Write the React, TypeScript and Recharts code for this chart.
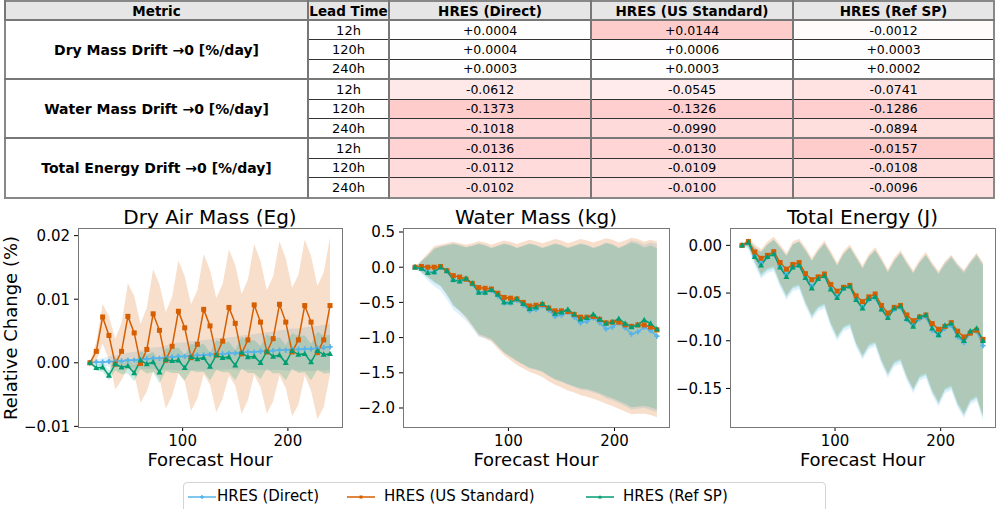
import React from 'react'
import { Area, ComposedChart, Line, XAxis, YAxis } from 'recharts'

const FONT = '"DejaVu Sans", Verdana, sans-serif'
const BLUE = '#56B4E9'
const ORANGE = '#D55E00'
const GREEN = '#009E73'

// ---------- table data ----------
const metrics = ['Dry Mass Drift →0 [%/day]', 'Water Mass Drift →0 [%/day]', 'Total Energy Drift →0 [%/day]']
const leadTimes = ['12h', '120h', '240h']
const seriesNames = ['HRES (Direct)', 'HRES (US Standard)', 'HRES (Ref SP)']
const driftDirect = [0.0004, 0.0004, 0.0003, -0.0612, -0.1373, -0.1018, -0.0136, -0.0112, -0.0102]
const driftUS = [0.0144, 0.0006, 0.0003, -0.0545, -0.1326, -0.099, -0.013, -0.0109, -0.01]
const driftRefSP = [-0.0012, 0.0003, 0.0002, -0.0741, -0.1286, -0.0894, -0.0157, -0.0108, -0.0096]

// ---------- chart data ----------
const hours = [
  12, 18, 24, 30, 36, 42, 48, 54, 60, 66,
  72, 78, 84, 90, 96, 102, 108, 114, 120, 126,
  132, 138, 144, 150, 156, 162, 168, 174, 180, 186,
  192, 198, 204, 210, 216, 222, 228, 234, 240,
]

// dry air mass
const dryDirect = [
  0, 0.0001, 0.0001, 0.0002, 0.0002, 0.0003, 0.0004, 0.0004, 0.0005, 0.0006,
  0.0007, 0.0007, 0.0008, 0.0009, 0.001, 0.001, 0.0011, 0.0012, 0.0012, 0.0013,
  0.0014, 0.0014, 0.0015, 0.0015, 0.0016, 0.0017, 0.0017, 0.0018, 0.0018, 0.0019,
  0.002, 0.002, 0.0021, 0.0021, 0.0022, 0.0022, 0.0023, 0.0024, 0.0025,
]
const dryDirectLo = [
  0, -0.0003, -0.0005, -0.0006, -0.0007, -0.0007, -0.0008, -0.0009, -0.0009, -0.001,
  -0.001, -0.0011, -0.0011, -0.0011, -0.0012, -0.0012, -0.0012, -0.0011, -0.0012, -0.0011,
  -0.0011, -0.0011, -0.001, -0.0011, -0.0011, -0.001, -0.0011, -0.0011, -0.0012, -0.0011,
  -0.0011, -0.0012, -0.0012, -0.0012, -0.0012, -0.0013, -0.0012, -0.0012, -0.0011,
]
const dryDirectHi = [
  0, 0.0005, 0.0007, 0.001, 0.0011, 0.0013, 0.0016, 0.0017, 0.0019, 0.0022,
  0.0024, 0.0025, 0.0027, 0.0029, 0.0032, 0.0032, 0.0034, 0.0035, 0.0036, 0.0037,
  0.0039, 0.0039, 0.004, 0.0041, 0.0043, 0.0044, 0.0045, 0.0047, 0.0048, 0.0049,
  0.0051, 0.0052, 0.0054, 0.0054, 0.0056, 0.0057, 0.0058, 0.006, 0.0061,
]
const dryUS = [
  0, 0.0018, 0.0072, 0.0043, -0.0002, 0.0018, 0.0073, 0.0047, -0.0001, 0.0021,
  0.0077, 0.0051, 0.0004, 0.0026, 0.0081, 0.0055, 0.0008, 0.0029, 0.0084, 0.0058,
  0.0012, 0.0034, 0.0087, 0.0062, 0.0014, 0.0036, 0.0091, 0.0064, 0.0017, 0.0038,
  0.0092, 0.0064, 0.0017, 0.0036, 0.009, 0.0064, 0.0016, 0.0036, 0.009,
]
const dryUSLo = [
  -0.0001, 0.0003, 0.003, 0.0005, -0.0042, -0.0027, -0.0007, -0.0018, -0.0063, -0.0045,
  -0.0013, -0.0025, -0.0072, -0.0052, -0.0017, -0.003, -0.0076, -0.0056, -0.0018, -0.0034,
  -0.0078, -0.0056, -0.002, -0.0036, -0.008, -0.0059, -0.0019, -0.0038, -0.008, -0.006,
  -0.002, -0.004, -0.0084, -0.0066, -0.002, -0.0044, -0.0089, -0.007, -0.0018,
]
const dryUSHi = [
  0.0001, 0.0033, 0.0093, 0.0073, 0.0038, 0.0063, 0.0125, 0.0105, 0.0061, 0.0087,
  0.0147, 0.0123, 0.008, 0.0104, 0.0161, 0.0136, 0.0092, 0.0114, 0.0171, 0.0146,
  0.0102, 0.0124, 0.0178, 0.0154, 0.0108, 0.0131, 0.0187, 0.016, 0.0114, 0.0136,
  0.0191, 0.0164, 0.0118, 0.0138, 0.0194, 0.0168, 0.0121, 0.0142, 0.0197,
]
const dryRef = [
  0, -0.0008, -0.0007, -0.002, -0.0002, -0.0007, -0.0005, -0.0016, 0.0004, -0.0002,
  0.0001, -0.0015, 0.0005, 0.0003, 0.0004, -0.0008, 0.0009, 0.0006, 0.0008, -0.0006,
  0.0012, 0.0008, 0.0009, -0.0004, 0.0016, 0.0009, 0.001, 0, 0.0018, 0.001,
  0.0012, 0, 0.0019, 0.0013, 0.0014, 0.0001, 0.0019, 0.0013, 0.0014,
]
const dryRefLo = [
  0, -0.0013, -0.0014, -0.0028, -0.0012, -0.0018, -0.0017, -0.0029, -0.001, -0.0017,
  -0.0015, -0.0032, -0.0013, -0.0016, -0.0016, -0.0028, -0.0012, -0.0015, -0.0014, -0.0028,
  -0.0011, -0.0015, -0.0015, -0.0028, -0.0009, -0.0016, -0.0016, -0.0026, -0.0009, -0.0017,
  -0.0016, -0.0028, -0.0009, -0.0016, -0.0015, -0.0028, -0.0011, -0.0017, -0.0016,
]
const dryRefHi = [
  0, -0.0003, 0, -0.0012, 0.0008, 0.0004, 0.0007, -0.0003, 0.0018, 0.0013,
  0.0017, 0.0002, 0.0023, 0.0022, 0.0024, 0.0012, 0.003, 0.0027, 0.003, 0.0016,
  0.0035, 0.0031, 0.0033, 0.002, 0.0041, 0.0034, 0.0036, 0.0026, 0.0045, 0.0037,
  0.004, 0.0028, 0.0047, 0.0042, 0.0043, 0.003, 0.0049, 0.0043, 0.0044,
]

// water mass
const waterDirect = [
  0, -0.01, -0.07, -0.07, 0, -0.06, -0.18, -0.2, -0.17, -0.24,
  -0.35, -0.36, -0.33, -0.41, -0.51, -0.51, -0.47, -0.54, -0.62, -0.6,
  -0.55, -0.61, -0.7, -0.68, -0.64, -0.71, -0.79, -0.77, -0.72, -0.79,
  -0.88, -0.85, -0.79, -0.86, -0.95, -0.92, -0.85, -0.9, -0.98,
]
const waterDirectLo = [
  0, -0.09, -0.19, -0.27, -0.33, -0.46, -0.6, -0.68, -0.76, -0.87,
  -0.99, -1.01, -1.04, -1.13, -1.22, -1.28, -1.34, -1.39, -1.44, -1.46,
  -1.49, -1.55, -1.6, -1.63, -1.67, -1.7, -1.74, -1.75, -1.78, -1.81,
  -1.86, -1.89, -1.93, -1.97, -2.02, -2.01, -2.0, -2.03, -2.06,
]
const waterDirectHi = [
  0, 0.09, 0.17, 0.27, 0.3, 0.32, 0.34, 0.32, 0.29, 0.31,
  0.34, 0.32, 0.28, 0.31, 0.34, 0.32, 0.28, 0.31, 0.34, 0.32,
  0.28, 0.31, 0.34, 0.32, 0.28, 0.31, 0.34, 0.32, 0.28, 0.31,
  0.35, 0.33, 0.28, 0.32, 0.38, 0.36, 0.32, 0.35, 0.33,
]
const waterUS = [
  0, 0.01, 0, 0, 0.01, -0.05, -0.12, -0.14, -0.17, -0.23,
  -0.29, -0.3, -0.31, -0.37, -0.43, -0.44, -0.45, -0.5, -0.55, -0.54,
  -0.53, -0.58, -0.62, -0.62, -0.63, -0.67, -0.71, -0.71, -0.7, -0.74,
  -0.79, -0.78, -0.78, -0.82, -0.84, -0.82, -0.82, -0.85, -0.89,
]
const waterUSLo = [
  0, -0.06, -0.13, -0.2, -0.26, -0.38, -0.53, -0.62, -0.72, -0.84,
  -0.97, -1.01, -1.06, -1.16, -1.25, -1.32, -1.39, -1.44, -1.49, -1.52,
  -1.56, -1.62, -1.67, -1.71, -1.75, -1.78, -1.82, -1.84, -1.87, -1.9,
  -1.94, -1.97, -2.01, -2.05, -2.09, -2.08, -2.08, -2.1, -2.13,
]
const waterUSHi = [
  0, 0.1, 0.2, 0.3, 0.32, 0.34, 0.36, 0.34, 0.32, 0.34,
  0.37, 0.35, 0.32, 0.35, 0.38, 0.36, 0.33, 0.36, 0.39, 0.37,
  0.34, 0.37, 0.4, 0.38, 0.34, 0.37, 0.4, 0.38, 0.35, 0.38,
  0.41, 0.39, 0.35, 0.38, 0.42, 0.4, 0.36, 0.39, 0.37,
]
const waterRef = [
  0, -0.02, -0.08, -0.07, 0, -0.05, -0.18, -0.2, -0.16, -0.23,
  -0.36, -0.36, -0.32, -0.39, -0.5, -0.5, -0.45, -0.52, -0.59, -0.57,
  -0.52, -0.58, -0.66, -0.64, -0.6, -0.67, -0.74, -0.72, -0.67, -0.74,
  -0.8, -0.78, -0.73, -0.8, -0.85, -0.82, -0.75, -0.8, -0.88,
]
const waterRefLo = [
  0, -0.07, -0.15, -0.22, -0.27, -0.4, -0.55, -0.62, -0.7, -0.82,
  -0.95, -0.98, -1.02, -1.12, -1.21, -1.27, -1.33, -1.38, -1.43, -1.45,
  -1.48, -1.54, -1.59, -1.62, -1.66, -1.69, -1.72, -1.73, -1.76, -1.79,
  -1.83, -1.86, -1.9, -1.94, -1.99, -1.98, -1.97, -1.99, -2.02,
]
const waterRefHi = [
  0, 0.08, 0.16, 0.26, 0.29, 0.31, 0.33, 0.31, 0.28, 0.3,
  0.33, 0.31, 0.27, 0.3, 0.33, 0.31, 0.27, 0.3, 0.33, 0.31,
  0.27, 0.3, 0.33, 0.31, 0.27, 0.3, 0.33, 0.31, 0.27, 0.3,
  0.34, 0.32, 0.27, 0.31, 0.35, 0.33, 0.28, 0.31, 0.27,
]

// total energy
const energyDirect = [
  0, 0.003, -0.011, -0.019, -0.012, -0.009, -0.022, -0.031, -0.023, -0.021,
  -0.033, -0.043, -0.035, -0.032, -0.045, -0.054, -0.045, -0.043, -0.056, -0.065,
  -0.057, -0.055, -0.067, -0.075, -0.067, -0.065, -0.078, -0.084, -0.077, -0.075,
  -0.089, -0.094, -0.087, -0.084, -0.096, -0.102, -0.092, -0.09, -0.105,
]
const energyDirectLo = [
  0, -0.004, -0.021, -0.035, -0.029, -0.027, -0.044, -0.057, -0.048, -0.046,
  -0.064, -0.078, -0.069, -0.066, -0.086, -0.1, -0.09, -0.087, -0.107, -0.12,
  -0.109, -0.106, -0.125, -0.139, -0.127, -0.124, -0.142, -0.155, -0.142, -0.139,
  -0.157, -0.169, -0.155, -0.152, -0.17, -0.181, -0.167, -0.163, -0.183,
]
const energyDirectHi = [
  0, 0.006, -0.002, -0.007, 0.001, 0.006, -0.002, -0.011, 0.001, 0.004,
  -0.005, -0.016, -0.006, 0.002, -0.009, -0.021, -0.009, -0.002, -0.013, -0.024,
  -0.012, -0.005, -0.016, -0.028, -0.016, -0.008, -0.019, -0.029, -0.018, -0.01,
  -0.02, -0.029, -0.018, -0.011, -0.02, -0.027, -0.017, -0.009, -0.019,
]
const energyUS = [
  0, 0.004, -0.007, -0.0136, -0.0105, -0.0066, -0.018, -0.025, -0.02, -0.018,
  -0.0297, -0.036, -0.033, -0.03, -0.041, -0.048, -0.044, -0.042, -0.053, -0.059,
  -0.054, -0.051, -0.063, -0.071, -0.065, -0.063, -0.073, -0.079, -0.075, -0.073,
  -0.082, -0.088, -0.085, -0.081, -0.09, -0.096, -0.092, -0.089, -0.0985,
]
const energyUSLo = [
  0, -0.001, -0.016, -0.03, -0.024, -0.022, -0.039, -0.052, -0.043, -0.041,
  -0.059, -0.073, -0.064, -0.061, -0.081, -0.095, -0.085, -0.082, -0.102, -0.115,
  -0.104, -0.101, -0.12, -0.134, -0.122, -0.119, -0.137, -0.15, -0.137, -0.134,
  -0.152, -0.164, -0.15, -0.147, -0.165, -0.176, -0.162, -0.158, -0.178,
]
const energyUSHi = [
  0, 0.008, 0.001, -0.004, 0.004, 0.009, 0.001, -0.008, 0.004, 0.007,
  -0.002, -0.013, -0.003, 0.005, -0.006, -0.018, -0.006, 0.001, -0.01, -0.021,
  -0.009, -0.002, -0.013, -0.025, -0.013, -0.005, -0.016, -0.026, -0.015, -0.007,
  -0.018, -0.027, -0.017, -0.01, -0.019, -0.026, -0.016, -0.008, -0.018,
]
const energyRef = [
  0, 0.003, -0.012, -0.021, -0.012, -0.009, -0.023, -0.033, -0.023, -0.021,
  -0.034, -0.045, -0.035, -0.032, -0.046, -0.055, -0.045, -0.043, -0.057, -0.066,
  -0.056, -0.054, -0.067, -0.076, -0.066, -0.064, -0.077, -0.085, -0.075, -0.073,
  -0.087, -0.094, -0.084, -0.082, -0.094, -0.1, -0.09, -0.087, -0.1,
]
const energyRefLo = [
  0, -0.002, -0.018, -0.032, -0.026, -0.024, -0.041, -0.054, -0.045, -0.043,
  -0.061, -0.075, -0.066, -0.063, -0.083, -0.097, -0.087, -0.084, -0.104, -0.117,
  -0.106, -0.103, -0.122, -0.136, -0.124, -0.121, -0.139, -0.152, -0.139, -0.136,
  -0.154, -0.166, -0.152, -0.149, -0.167, -0.178, -0.164, -0.16, -0.18,
]
const energyRefHi = [
  0, 0.006, -0.002, -0.007, 0.001, 0.006, -0.002, -0.011, 0.001, 0.004,
  -0.005, -0.016, -0.006, 0.002, -0.009, -0.021, -0.009, -0.002, -0.013, -0.024,
  -0.012, -0.005, -0.016, -0.028, -0.016, -0.008, -0.019, -0.029, -0.018, -0.01,
  -0.021, -0.03, -0.02, -0.013, -0.022, -0.029, -0.019, -0.011, -0.021,
]

const dryTicks = [-0.01, 0, 0.01, 0.02]
const waterTicks = [-2, -1.5, -1, -0.5, 0, 0.5]
const energyTicks = [-0.15, -0.1, -0.05, 0]
const hourTicks = [100, 200]

// ---------- layout ----------
const CHART_TOP = 195
const CHART_H = 257
const MARGIN_TOP = 33
const XAXIS_H = 25
const PLOT_TOP = CHART_TOP + MARGIN_TOP
const PLOT_H = CHART_H - MARGIN_TOP - XAXIS_H

const panels = [
  {
    title: 'Dry Air Mass (Eg)', left: 0, width: 345, yWidth: 78, right: 3,
    yDomain: [-0.0101, 0.0212], yTicks: dryTicks, digits: 2,
    direct: dryDirect, directLo: dryDirectLo, directHi: dryDirectHi,
    us: dryUS, usLo: dryUSLo, usHi: dryUSHi,
    ref: dryRef, refLo: dryRefLo, refHi: dryRefHi,
  },
  {
    title: 'Water Mass (kg)', left: 345, width: 327, yWidth: 58, right: 3,
    yDomain: [-2.27, 0.557], yTicks: waterTicks, digits: 1,
    direct: waterDirect, directLo: waterDirectLo, directHi: waterDirectHi,
    us: waterUS, usLo: waterUSLo, usHi: waterUSHi,
    ref: waterRef, refLo: waterRefLo, refHi: waterRefHi,
  },
  {
    title: 'Total Energy (J)', left: 675, width: 322, yWidth: 55, right: 2,
    yDomain: [-0.1904, 0.0182], yTicks: energyTicks, digits: 2,
    direct: energyDirect, directLo: energyDirectLo, directHi: energyDirectHi,
    us: energyUS, usLo: energyUSLo, usHi: energyUSHi,
    ref: energyRef, refLo: energyRefLo, refHi: energyRefHi,
  },
]

const fmtTick = (v: number, digits: number) => v.toFixed(digits).replace('-', '\u2212')
const fmtDrift = (v: number) => (v > 0 ? '+' : '') + v.toFixed(4)
const shade = (v: number, max: number) => {
  const c = Math.round(255 - 51 * (Math.abs(v) / max))
  return `rgb(255, ${c}, ${c})`
}

// ---------- markers ----------
const PlusDot = (props: any) => {
  const { cx, cy, index } = props
  if (cx == null || cy == null) return null
  return (
    <path
      key={`b${index}`}
      d={`M${cx - 2.6} ${cy - 0.9}h5.2v1.8h-5.2z M${cx - 0.9} ${cy - 2.6}h1.8v5.2h-1.8z`}
      fill={BLUE}
    />
  )
}
const SquareDot = (props: any) => {
  const { cx, cy, index } = props
  if (cx == null || cy == null) return null
  return <rect key={`o${index}`} x={cx - 2.5} y={cy - 2.5} width={5} height={5} fill={ORANGE} />
}
const TriDot = (props: any) => {
  const { cx, cy, index } = props
  if (cx == null || cy == null) return null
  return <polygon key={`g${index}`} points={`${cx},${cy - 3.2} ${cx - 3},${cy + 2.2} ${cx + 3},${cy + 2.2}`} fill={GREEN} />
}

// ---------- table ----------
const colWidths = [303, 81, 202, 202, 201]

function DriftTable() {
  const cols = [driftDirect, driftUS, driftRefSP]
  const border = '1px solid #333'
  return (
    <table
      style={{
        position: 'absolute', left: 4, top: 0, width: 989, borderCollapse: 'collapse',
        tableLayout: 'fixed', fontFamily: FONT, color: '#000', border: '2px solid #888',
      }}
    >
      <colgroup>
        {colWidths.map((w, i) => <col key={i} style={{ width: w }} />)}
      </colgroup>
      <thead>
        <tr>
          {['Metric', 'Lead Time', ...seriesNames].map((h, i) => (
            <th
              key={i}
              style={{
                height: 17, padding: 0, background: '#e6e6e6', fontSize: 13.5, fontWeight: 'bold',
                lineHeight: '16px', border, borderLeft: '2px solid #777', whiteSpace: 'nowrap',
              }}
            >
              {h}
            </th>
          ))}
        </tr>
      </thead>
      <tbody>
        {metrics.map((m, gi) => {
          const max = Math.max(...cols.flatMap((c) => c.slice(gi * 3, gi * 3 + 3).map((v) => Math.abs(v))))
          return leadTimes.map((lt, li) => {
            const k = gi * 3 + li
            const top = li === 0 ? '2px solid #777' : border
            return (
              <tr key={k}>
                {li === 0 && (
                  <td
                    rowSpan={3}
                    style={{
                      textAlign: 'center', fontWeight: 'bold', fontSize: 14, padding: 0,
                      border, borderTop: top, background: '#fff',
                    }}
                  >
                    {m}
                  </td>
                )}
                <td style={{ height: 18.4, padding: 0, textAlign: 'center', fontSize: 13, border, borderTop: top, borderLeft: '2px solid #777', lineHeight: '17px' }}>
                  {lt}
                </td>
                {cols.map((c, ci) => (
                  <td
                    key={ci}
                    style={{
                      padding: 0, textAlign: 'center', fontSize: 12.5, lineHeight: '17px',
                      border, borderTop: top, borderLeft: '2px solid #777', background: shade(c[k], max),
                    }}
                  >
                    {fmtDrift(c[k])}
                  </td>
                ))}
              </tr>
            )
          })
        })}
      </tbody>
    </table>
  )
}

// ---------- panels ----------
function Panel({ p, showYLabel }: { p: any; showYLabel: boolean }) {
  const rows = hours.map((h, i) => ({
    h,
    d: p.direct[i],
    u: p.us[i],
    r: p.ref[i],
    dBand: [p.directLo[i], p.directHi[i]],
    uBand: [p.usLo[i], p.usHi[i]],
    rBand: [p.refLo[i], p.refHi[i]],
  }))
  const plotLeft = p.left + p.yWidth
  const plotRight = p.left + p.width - p.right
  const cx = (plotLeft + plotRight) / 2
  const tickStyle = { fill: '#000', fontSize: 15, fontFamily: FONT }
  return (
    <>
      <div
        style={{
          position: 'absolute', left: cx - 150, width: 300, top: 205, height: 24, lineHeight: '24px',
          textAlign: 'center', fontSize: 20, fontFamily: FONT, color: '#000', whiteSpace: 'nowrap',
        }}
      >
        {p.title}
      </div>
      <div style={{ position: 'absolute', left: p.left, top: CHART_TOP, width: p.width, height: CHART_H }}>
        <ComposedChart
          width={p.width}
          height={CHART_H}
          data={rows}
          margin={{ top: MARGIN_TOP, right: p.right, bottom: 0, left: 0 }}
        >
          <XAxis
            dataKey="h"
            type="number"
            domain={[0.6, 251.4]}
            ticks={hourTicks}
            allowDataOverflow
            axisLine={false}
            tickLine={{ stroke: '#000' }}
            tickSize={4}
            tickMargin={4}
            height={XAXIS_H}
            tick={tickStyle}
            interval={0}
          />
          <YAxis
            type="number"
            domain={p.yDomain}
            ticks={p.yTicks}
            allowDataOverflow
            width={p.yWidth}
            axisLine={false}
            tickLine={{ stroke: '#000' }}
            tickSize={4}
            tickMargin={4}
            tick={tickStyle}
            interval={0}
            tickFormatter={(v: number) => fmtTick(v, p.digits)}
          />
          <Area type="linear" dataKey="dBand" stroke="none" fill={BLUE} fillOpacity={0.2} isAnimationActive={false} activeDot={false} />
          <Area type="linear" dataKey="uBand" stroke="none" fill={ORANGE} fillOpacity={0.2} isAnimationActive={false} activeDot={false} />
          <Area type="linear" dataKey="rBand" stroke="none" fill={GREEN} fillOpacity={0.2} isAnimationActive={false} activeDot={false} />
          <Line type="linear" dataKey="d" stroke={BLUE} strokeWidth={1.5} dot={PlusDot} activeDot={false} isAnimationActive={false} />
          <Line type="linear" dataKey="u" stroke={ORANGE} strokeWidth={1.5} dot={SquareDot} activeDot={false} isAnimationActive={false} />
          <Line type="linear" dataKey="r" stroke={GREEN} strokeWidth={1.5} dot={TriDot} activeDot={false} isAnimationActive={false} />
        </ComposedChart>
      </div>
      <div
        style={{
          position: 'absolute', left: plotLeft, top: PLOT_TOP, width: plotRight - plotLeft + 1, height: PLOT_H + 1,
          border: '1px solid #777', boxSizing: 'border-box', pointerEvents: 'none',
        }}
      />
      <div
        style={{
          position: 'absolute', left: cx - 100, width: 200, top: 451, height: 18, lineHeight: '18px',
          textAlign: 'center', fontSize: 18, fontFamily: FONT, color: '#000',
        }}
      >
        Forecast Hour
      </div>
      {showYLabel && (
        <div
          style={{
            position: 'absolute', left: 11, top: PLOT_TOP + PLOT_H / 2, transform: 'translate(-50%, -50%) rotate(-90deg)',
            fontSize: 18, fontFamily: FONT, color: '#000', whiteSpace: 'nowrap', lineHeight: '22px',
          }}
        >
          Relative Change (%)
        </div>
      )}
    </>
  )
}

// ---------- legend ----------
const legendItems = [
  { color: BLUE, line: 186, text: 216, marker: 'plus' },
  { color: ORANGE, line: 345, text: 383, marker: 'square' },
  { color: GREEN, line: 584, text: 622, marker: 'tri' },
]

function LegendBox() {
  return (
    <div
      style={{
        position: 'absolute', left: 183, top: 482, width: 643, height: 40, border: '1px solid #d3d3d3',
        borderRadius: 4, background: '#fff', boxSizing: 'border-box',
      }}
    >
      {legendItems.map((it, i) => (
        <React.Fragment key={i}>
          <svg style={{ position: 'absolute', left: it.line - 183, top: 8 }} width={30} height={12}>
            <line x1={1} y1={6} x2={29} y2={6} stroke={it.color} strokeWidth={1.5} />
            {it.marker === 'plus' && <path d="M13 5.3h4v1.4h-4z M14.3 4h1.4v4h-1.4z" fill={it.color} />}
            {it.marker === 'square' && <rect x={13.5} y={4.5} width={3} height={3} fill={it.color} />}
            {it.marker === 'tri' && <polygon points="15,4 13,7.6 17,7.6" fill={it.color} />}
          </svg>
          <div
            style={{
              position: 'absolute', left: it.text - 183, top: 3, fontSize: 15, lineHeight: '20px',
              fontFamily: FONT, color: '#000', whiteSpace: 'nowrap',
            }}
          >
            {seriesNames[i]}
          </div>
        </React.Fragment>
      ))}
    </div>
  )
}

export default function App() {
  return (
    <div
      style={{
        position: 'absolute', left: 0, top: 0, width: 997, height: 509, background: '#fff', overflow: 'hidden',
      }}
    >
      <DriftTable />
      {panels.map((p, i) => (
        <Panel key={i} p={p} showYLabel={i === 0} />
      ))}
      <LegendBox />
    </div>
  )
}
